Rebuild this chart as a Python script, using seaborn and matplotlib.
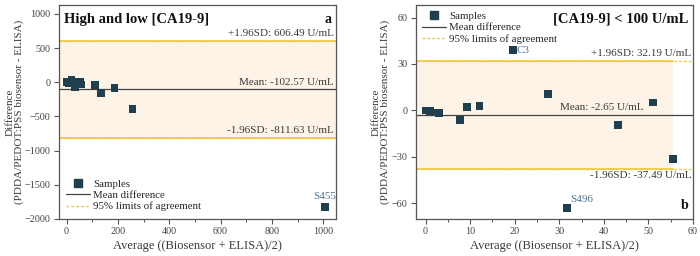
import numpy as np
import pandas as pd
import matplotlib
matplotlib.use("Agg")
import matplotlib.pyplot as plt
from matplotlib.lines import Line2D
from matplotlib.ticker import MultipleLocator
import seaborn as sns

# ---- data ----
low_avg = [0.0, 0.9, 2.0, 3.0, 7.8, 9.2, 12.1, 19.6, 27.4, 31.7, 43.1, 51.0, 55.5]
low_diff = [0.0, -0.6, -1.3, -1.9, -6.2, 2.5, 3.0, 38.9, 10.8, -63.2, -9.6, 5.1, -31.3]
high_avg = [112, 135, 187, 257, 1006]
high_diff = [-38, -155, -85, -394, -1830]

all_mean, all_upper, all_lower = -102.57, 606.49, -811.63
low_mean, low_upper, low_lower = -2.65, 32.19, -37.49

sns.set_theme(style="ticks")
plt.rcParams["font.family"] = ["Liberation Serif", "DejaVu Serif"]
plt.rcParams["mathtext.fontset"] = "stix"

MARK = "#1f3e4e"
GOLD = "#f2c84b"
SHADE = "#fdf4e7"
TXT = "#3a3a3a"
ANN = "#4d7290"

fig = plt.figure(figsize=(7.0, 2.56), dpi=100)
axL = fig.add_axes([0.084, 0.145, 0.396, 0.835])
axR = fig.add_axes([0.594, 0.145, 0.396, 0.835])

df_all = pd.DataFrame({"avg": low_avg + high_avg, "diff": low_diff + high_diff})
df_low = pd.DataFrame({"avg": low_avg, "diff": low_diff})


def style_axis(ax):
    for s in ax.spines.values():
        s.set_color("#555555")
        s.set_linewidth(0.9)
    ax.tick_params(axis="both", which="major", labelsize=7.3, colors="#555555",
                   labelcolor="#444444", length=3.5, width=0.8, direction="out", pad=2.5)
    ax.tick_params(axis="x", which="minor", length=2, width=0.7, colors="#555555")
    ax.tick_params(axis="y", which="minor", length=0)


def draw(ax, df, mean, upper, lower, xlim, ylim, fill_x, ylab_x):
    ax.set_xlim(*xlim)
    ax.set_ylim(*ylim)
    ax.fill_between(fill_x, [lower, lower], [upper, upper], color=SHADE, lw=0, zorder=0)
    ax.axhline(upper, color=GOLD, lw=1.0, ls=(0, (2, 1.5)), zorder=1)
    ax.axhline(lower, color=GOLD, lw=1.0, ls=(0, (2, 1.5)), zorder=1)
    ax.plot(fill_x, [upper, upper], color=GOLD, lw=1.3, zorder=1)
    ax.plot(fill_x, [lower, lower], color=GOLD, lw=1.3, zorder=1)
    ax.axhline(mean, color="#444444", lw=0.9, zorder=2)
    sns.scatterplot(data=df, x="avg", y="diff", ax=ax, marker="s", s=32,
                    color=MARK, edgecolor="none", zorder=3, legend=False)
    ax.set_xlabel("Average ((Biosensor + ELISA)/2)", fontsize=9, color=TXT, labelpad=3)
    ax.set_ylabel("Difference\n(PDDA/PEDOT:PSS biosensor - ELISA)", fontsize=8,
                  color=TXT, linespacing=1.05)
    ax.yaxis.set_label_coords(ylab_x, 0.5)
    style_axis(ax)


handles = [
    Line2D([], [], marker="s", ls="none", color=MARK, markersize=6),
    Line2D([], [], color="#444444", lw=0.9),
    Line2D([], [], color=GOLD, lw=1.0, ls=(0, (2, 1.5))),
]
labels = ["Samples", "Mean difference", "95% limits of agreement"]

# ---- left panel ----
draw(axL, df_all, all_mean, all_upper, all_lower, (-30, 1050), (-2000, 1130),
     [-30, 1050], -0.124)
axL.xaxis.set_major_locator(MultipleLocator(200))
axL.xaxis.set_minor_locator(MultipleLocator(100))
axL.yaxis.set_major_locator(MultipleLocator(500))
axL.text(0.02, 0.965, "High and low [CA19-9]", transform=axL.transAxes, fontsize=10.5,
         fontweight="bold", va="top", ha="left", color="#111111")
axL.text(0.985, 0.965, "a", transform=axL.transAxes, fontsize=10, fontweight="bold",
         va="top", ha="right", color="#111111")
axL.text(1040, all_upper + 40, "+1.96SD: 606.49 U/mL", fontsize=8, ha="right", va="bottom", color=TXT)
axL.text(1040, all_mean + 40, "Mean: -102.57 U/mL", fontsize=8, ha="right", va="bottom", color=TXT)
axL.text(1040, all_lower + 40, "-1.96SD: -811.63 U/mL", fontsize=8, ha="right", va="bottom", color=TXT)
axL.text(high_avg[-1], high_diff[-1] + 90, "S455", fontsize=8, ha="center", va="bottom", color=ANN)
axL.legend(handles, labels, loc="lower left", frameon=False, fontsize=7.8,
           handlelength=2.2, handletextpad=0.3, labelspacing=0.15,
           borderaxespad=0.3, bbox_to_anchor=(0.0, 0.0))

# ---- right panel ----
draw(axR, df_low, low_mean, low_upper, low_lower, (-2.2, 60), (-70, 68),
     [-2.2, 55.5], -0.092)
axR.xaxis.set_major_locator(MultipleLocator(10))
axR.xaxis.set_minor_locator(MultipleLocator(5))
axR.yaxis.set_major_locator(MultipleLocator(30))
axR.text(0.985, 0.965, "[CA19-9] < 100 U/mL", transform=axR.transAxes, fontsize=10.5,
         fontweight="bold", va="top", ha="right", color="#111111")
axR.text(0.985, 0.03, "b", transform=axR.transAxes, fontsize=10, fontweight="bold",
         va="bottom", ha="right", color="#111111")
axR.text(59.6, low_upper + 1.5, "+1.96SD: 32.19 U/mL", fontsize=8, ha="right", va="bottom", color=TXT)
axR.text(49.0, low_mean + 1.5, "Mean: -2.65 U/mL", fontsize=8, ha="right", va="bottom", color=TXT)
axR.text(59.6, low_lower - 1.5, "-1.96SD: -37.49 U/mL", fontsize=8, ha="right", va="top", color=TXT)
axR.text(low_avg[7] + 0.9, low_diff[7], "C3", fontsize=8, ha="left", va="center", color=ANN)
axR.text(low_avg[9] + 0.7, low_diff[9] + 3, "S496", fontsize=8, ha="left", va="bottom", color=ANN)
axR.legend(handles, labels, loc="upper left", frameon=False, fontsize=7.8,
           handlelength=2.2, handletextpad=0.3, labelspacing=0.15,
           borderaxespad=0.2)

fig.savefig("out.png", dpi=100)
